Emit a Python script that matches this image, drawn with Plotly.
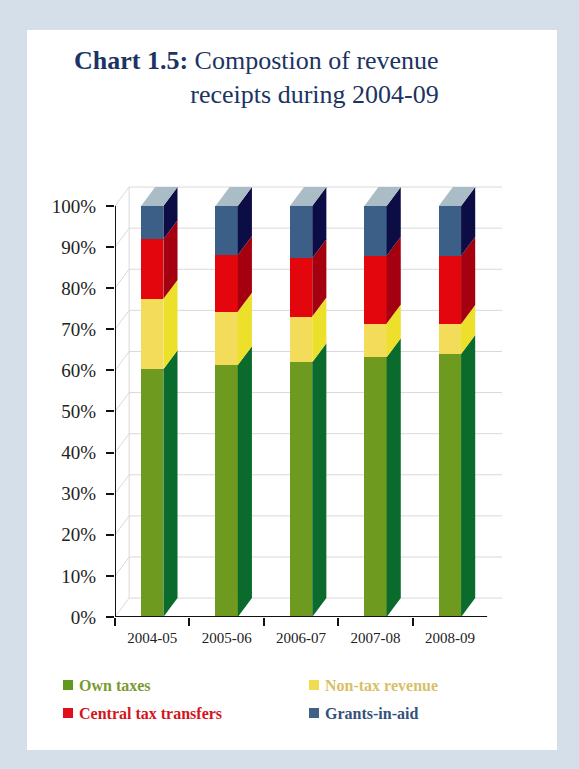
import plotly.graph_objects as go

# ---------------- data ----------------
categories = ["2004-05", "2005-06", "2006-07", "2007-08", "2008-09"]
own_taxes = [60.3, 61.3, 62.0, 63.2, 64.0]
non_tax_revenue = [17.1, 13.0, 11.1, 8.2, 7.3]
central_tax_transfers = [14.5, 13.8, 14.2, 16.5, 16.6]
grants_in_aid = [8.1, 11.9, 12.7, 12.1, 12.1]
y_ticks = [0, 10, 20, 30, 40, 50, 60, 70, 80, 90, 100]

series_names = ["Own taxes", "Non-tax revenue", "Central tax transfers", "Grants-in-aid"]
series_values = [own_taxes, non_tax_revenue, central_tax_transfers, grants_in_aid]
front_colors = ["#6e9a1f", "#f2dc5a", "#e3060c", "#3b5f86"]
side_colors = ["#0b6b2c", "#ece02a", "#a5000f", "#0d0d45"]
top_color = "#aabdc6"
legend_text_colors = ["#7a9a30", "#d8bf68", "#d4141c", "#34507a"]
legend_box_colors = ["#5f9a1c", "#f0dc50", "#e0101a", "#3f6185"]

# ---------------- geometry (pixels) ----------------
W, H = 579, 769
ML, MR, MT, MB = 115, 77, 185, 152
PW, PH = W - ML - MR, H - MT - MB
X0, X1 = -0.5, 4.7
Y0, Y1 = 0, 105.1
bar_w = 0.30
dx = 0.19   # depth offset (category units)
dy = 4.6    # depth offset (percent units)


def px_x(px):
    return (px - ML) / PW


def px_y(py):
    return (H - MB - py) / PH


fig = go.Figure()

xs = list(range(len(categories)))

# front faces
for name, vals, col in zip(series_names, series_values, front_colors):
    fig.add_trace(go.Bar(x=xs, y=vals, width=bar_w, name=name,
                         marker=dict(color=col, line=dict(width=0)),
                         showlegend=False, hoverinfo="skip"))

# side faces and top faces
for i in xs:
    base = 0.0
    for k, vals in enumerate(series_values):
        top = base + vals[i]
        xr = i + bar_w / 2
        fig.add_trace(go.Scatter(
            x=[xr, xr + dx, xr + dx, xr, xr],
            y=[base, base + dy, top + dy, top, base],
            mode="lines", fill="toself", fillcolor=side_colors[k],
            line=dict(width=0, color=side_colors[k]),
            showlegend=False, hoverinfo="skip"))
        base = top
    xl = i - bar_w / 2
    xr = i + bar_w / 2
    fig.add_trace(go.Scatter(
        x=[xl, xl + dx, xr + dx, xr, xl],
        y=[base, base + dy, base + dy, base, base],
        mode="lines", fill="toself", fillcolor=top_color,
        line=dict(width=0, color=top_color),
        showlegend=False, hoverinfo="skip"))

shapes = []
# white page panel
shapes.append(dict(type="rect", xref="paper", yref="paper",
                   x0=px_x(27), x1=px_x(557), y0=px_y(750), y1=px_y(30),
                   fillcolor="white", line=dict(width=0), layer="below"))
grid_col = "#d9d9d9"
# back-wall gridlines and side diagonals
for v in y_ticks:
    shapes.append(dict(type="line", xref="x", yref="y",
                       x0=X0 + dx, x1=X1, y0=v + dy, y1=v + dy,
                       line=dict(color=grid_col, width=1), layer="below"))
    shapes.append(dict(type="line", xref="x", yref="y",
                       x0=X0, x1=X0 + dx, y0=v, y1=v + dy,
                       line=dict(color=grid_col, width=1), layer="below"))
shapes.append(dict(type="line", xref="x", yref="y",
                   x0=X0 + dx, x1=X0 + dx, y0=dy, y1=100 + dy,
                   line=dict(color=grid_col, width=1), layer="below"))
# axis lines
shapes.append(dict(type="line", xref="x", yref="y", x0=X0, x1=X0, y0=0, y1=100,
                   line=dict(color="#111111", width=2)))
shapes.append(dict(type="line", xref="x", yref="y", x0=X0, x1=4.5, y0=0, y1=0,
                   line=dict(color="#111111", width=2)))

annotations = []
annotations.append(dict(
    xref="paper", yref="paper", x=px_x(441), y=px_y(44),
    xanchor="right", yanchor="top", align="right", showarrow=False,
    text="<b>Chart 1.5:</b> Compostion of revenue<br>receipts during 2004-09",
    font=dict(family="Liberation Serif", size=26, color="#1b3462")))

legend_pos = [(63, 685), (309, 685), (63, 713), (309, 713)]
for (lx, ly), name, tc, bc in zip(legend_pos, series_names, legend_text_colors, legend_box_colors):
    shapes.append(dict(type="rect", xref="paper", yref="paper",
                       x0=px_x(lx), x1=px_x(lx + 10), y0=px_y(ly + 5), y1=px_y(ly - 5),
                       fillcolor=bc, line=dict(width=0)))
    annotations.append(dict(
        xref="paper", yref="paper", x=px_x(lx + 14), y=px_y(ly),
        xanchor="left", yanchor="middle", showarrow=False,
        text=f"<b>{name}</b>",
        font=dict(family="Liberation Serif", size=16, color=tc)))

fig.update_layout(
    width=W, height=H,
    margin=dict(l=ML, r=MR, t=MT, b=MB, pad=0),
    paper_bgcolor="#d5dfe9",
    plot_bgcolor="rgba(0,0,0,0)",
    barmode="stack",
    showlegend=False,
    shapes=shapes,
    annotations=annotations,
    xaxis=dict(range=[X0, X1], tickmode="array", tickvals=xs, ticktext=categories,
               ticks="", showgrid=False, zeroline=False, showline=False,
               tickfont=dict(family="Liberation Serif", size=15, color="#222222"),
               ticklabelstandoff=10,
               minor=dict(tickmode="array", tickvals=[-0.5, 0.5, 1.5, 2.5, 3.5],
                          ticks="outside", ticklen=8, tickwidth=2,
                          tickcolor="#111111", showgrid=False)),
    yaxis=dict(range=[Y0, Y1], tickmode="array", tickvals=y_ticks,
               ticktext=[f"{v}%" for v in y_ticks],
               ticks="outside", ticklen=8, tickwidth=2, tickcolor="#111111",
               showgrid=False, zeroline=False, showline=False,
               ticklabelstandoff=6,
               tickfont=dict(family="Liberation Serif", size=19, color="#222222")),
)

fig.write_html("out.html")
